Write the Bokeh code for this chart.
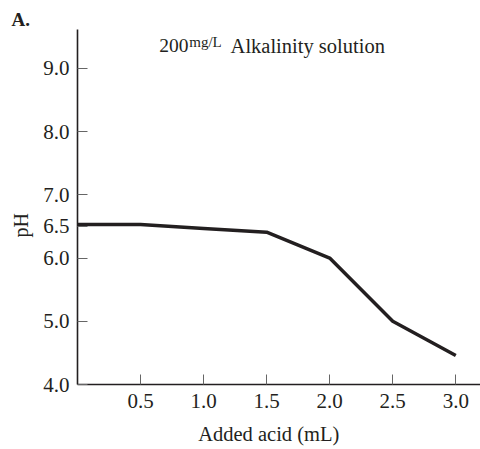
from bokeh.plotting import figure
from bokeh.models import FixedTicker, Label, Range1d, NumeralTickFormatter, Title
from bokeh.embed import file_html
from bokeh.resources import INLINE

# Data
added_acid = [0.0, 0.5, 1.0, 1.5, 2.0, 2.5, 3.0]
ph_values = [6.53, 6.53, 6.47, 6.41, 6.0, 5.0, 4.46]
x_ticks = [0.5, 1.0, 1.5, 2.0, 2.5, 3.0]
y_ticks = [4.0, 5.0, 6.0, 6.5, 7.0, 8.0, 9.0]

INK = "#231f20"
FONT = "Liberation Serif"

p = figure(width=480, height=449, output_backend="svg", toolbar_location=None,
           x_range=Range1d(0, 3.196), y_range=Range1d(4.0, 9.617),
           min_border_left=76, min_border_right=0, min_border_top=29,
           min_border_bottom=65)
p.outline_line_color = None
p.xgrid.visible = False
p.ygrid.visible = False
p.background_fill_color = "white"
p.border_fill_color = "white"

# Panel letter as the plot title, pushed to the far left
p.title = Title(text="A.", align="left", offset=-66, text_font=FONT,
                text_font_size="19px", text_font_style="bold", text_color=INK,
                standoff=0, vertical_align="bottom")

p.line(added_acid, ph_values, line_color=INK, line_width=3.5)

for ax in (p.xaxis[0], p.yaxis[0]):
    ax.axis_line_color = INK
    ax.axis_line_width = 1.6
    ax.major_tick_in = 10
    ax.major_tick_out = 0
    ax.minor_tick_in = 0
    ax.minor_tick_out = 0
    ax.major_tick_line_color = "#666666"
    ax.major_tick_line_width = 1
    ax.major_label_text_font = FONT
    ax.major_label_text_font_size = "21px"
    ax.major_label_text_color = INK
    ax.formatter = NumeralTickFormatter(format="0.0")

p.xaxis[0].ticker = FixedTicker(ticks=x_ticks)
p.yaxis[0].ticker = FixedTicker(ticks=y_ticks)
p.xaxis[0].major_label_standoff = 9
p.yaxis[0].major_label_standoff = 8

# x-axis title (trailing no-break spaces nudge the centred text left)
xa = p.xaxis[0]
xa.axis_label = "Added acid (mL)" + "\u00a0" * 4
xa.axis_label_standoff = 12
xa.axis_label_text_font = FONT
xa.axis_label_text_font_size = "20.5px"
xa.axis_label_text_font_style = "normal"
xa.axis_label_text_color = INK

# y-axis title as a side-panel title (positioned with an offset)
p.add_layout(Title(text="pH", align="left", offset=147, vertical_align="middle",
                   standoff=16, text_font=FONT, text_font_size="20px",
                   text_font_style="normal", text_color=INK), "left")

def lab(x, y, text, size, **kw):
    p.add_layout(Label(x=x, y=y, text=text, text_font=FONT,
                       text_font_size=size, text_color=INK, **kw))

# Chart heading pieces (inside the frame)
lab(0.649, 9.358, "200", "19.5px", text_baseline="alphabetic")
lab(0.886, 9.423, "mg/L", "15px", text_baseline="alphabetic")
lab(1.214, 9.358, "Alkalinity solution", "20.5px", text_baseline="alphabetic")

open("out.html", "w").write(file_html(p, INLINE))
